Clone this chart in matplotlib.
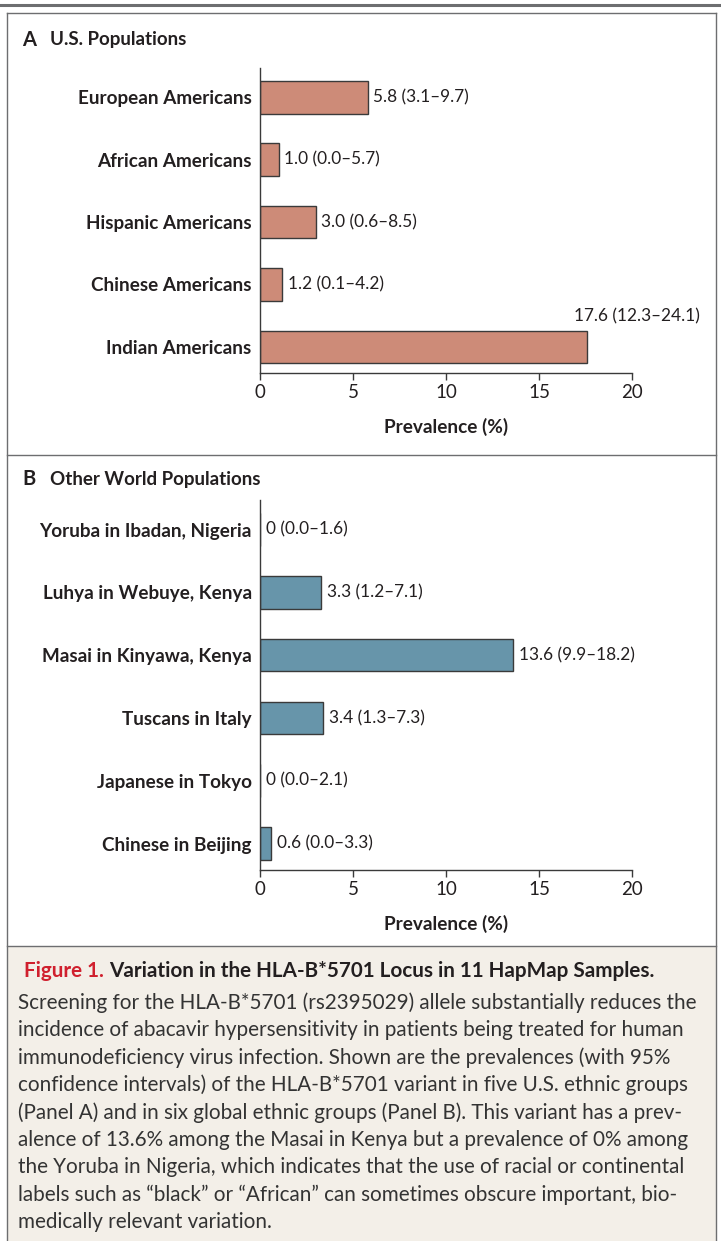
import matplotlib.pyplot as plt
from matplotlib.patches import Rectangle
from matplotlib.lines import Line2D

# prevalence of HLA-B*5701 with 95% confidence intervals
us_groups = ["European Americans", "African Americans", "Hispanic Americans",
             "Chinese Americans", "Indian Americans"]
us_prev = [5.8, 1.0, 3.0, 1.2, 17.6]
us_low = [3.1, 0.0, 0.6, 0.1, 12.3]
us_high = [9.7, 5.7, 8.5, 4.2, 24.1]

world_groups = ["Yoruba in Ibadan, Nigeria", "Luhya in Webuye, Kenya",
                "Masai in Kinyawa, Kenya", "Tuscans in Italy",
                "Japanese in Tokyo", "Chinese in Beijing"]
world_prev = [0, 3.3, 13.6, 3.4, 0, 0.6]
world_low = [0.0, 1.2, 9.9, 1.3, 0.0, 0.0]
world_high = [1.6, 7.1, 18.2, 7.3, 2.1, 3.3]

xticks = [0, 5, 10, 15, 20]

caption_lines = [
    "Screening for the HLA-B*5701 (rs2395029) allele substantially reduces the",
    "incidence of abacavir hypersensitivity in patients being treated for human",
    "immunodeficiency virus infection. Shown are the prevalences (with 95%",
    "confidence intervals) of the HLA-B*5701 variant in five U.S. ethnic groups",
    "(Panel A) and in six global ethnic groups (Panel B). This variant has a prev-",
    "alence of 13.6% among the Masai in Kenya but a prevalence of 0% among",
    "the Yoruba in Nigeria, which indicates that the use of racial or continental",
    "labels such as \u201cblack\u201d or \u201cAfrican\u201d can sometimes obscure important, bio-",
    "medically relevant variation.",
]

W, H = 721, 1241
INK = "#231f20"
FONT = ["Lato", "DejaVu Sans"]

fig = plt.figure(figsize=(W / 100, H / 100), dpi=100)
fig.patch.set_facecolor("white")


def hline(y, x0, x1, lw, color="#6d6e70"):
    fig.add_artist(Line2D([x0 / W, x1 / W], [1 - y / H, 1 - y / H], lw=lw, color=color))


def vline(x, y0, y1, lw, color="#6d6e70"):
    fig.add_artist(Line2D([x / W, x / W], [1 - y0 / H, 1 - y1 / H], lw=lw, color=color))


# frames
hline(5, 0, W, 2.2)
hline(13, 7, 716, 1.0)
hline(455, 7, 716, 1.0)
hline(946, 7, 716, 1.0)
vline(7, 13, H, 1.0)
vline(716, 13, H, 1.0)
fig.add_artist(Rectangle((7.5 / W, 0), (716 - 7.5) / W, (H - 946.5) / H,
                         facecolor="#f3efe8", edgecolor="none", zorder=-1))


def panel(top, bottom, groups, prev, low, high, color, letter, title, title_y):
    ax = fig.add_axes([260 / W, 1 - bottom / H, (632 - 260) / W, (bottom - top) / H])
    n = len(groups)
    pos = list(range(n))
    ax.barh(pos, prev, height=0.52, color=color, edgecolor="#3a3a3a", linewidth=1.0)
    ax.set_ylim(n - 1 + 0.42, -0.47)
    ax.set_xlim(0, 20)
    for i in pos:
        v = prev[i]
        vs = "0" if v == 0 else f"{v:.1f}"
        lab = f"{vs} ({low[i]:.1f}\u2013{high[i]:.1f})"
        if v > 15:
            # long bar: value sits above the bar, flush right
            ax.annotate(lab, (20, i), xytext=(49, 22), textcoords="offset points",
                        ha="right", va="center", fontsize=12.4, family=FONT, color=INK)
        else:
            ax.annotate(lab, (v, i), xytext=(4, 0), textcoords="offset points",
                        ha="left", va="center", fontsize=12.4, family=FONT, color=INK)
    ax.set_yticks(pos)
    ax.set_yticklabels(groups, fontsize=13.6, fontweight="bold", family=FONT, color=INK)
    ax.tick_params(axis="y", length=0, pad=6)
    ax.set_xticks(xticks)
    ax.set_xticklabels([str(t) for t in xticks], fontsize=13.5, family=FONT, color=INK)
    ax.tick_params(axis="x", length=5, width=1.0, color="#3a3a3a", pad=3)
    for s in ["top", "right"]:
        ax.spines[s].set_visible(False)
    for s in ["left", "bottom"]:
        ax.spines[s].set_color("#3a3a3a")
        ax.spines[s].set_linewidth(1.0)
    ax.set_xlabel("Prevalence (%)", fontsize=13.7, fontweight="bold", family=FONT,
                  color=INK, labelpad=12)
    ax.patch.set_alpha(0)
    fig.text(22 / W, 1 - title_y / H, letter, fontsize=14.5, fontweight="bold",
             family=FONT, color=INK, va="center")
    fig.text(50 / W, 1 - title_y / H, title, fontsize=13.5, fontweight="bold",
             family=FONT, color=INK, va="center")
    return ax


panel(68, 373, us_groups, us_prev, us_low, us_high, "#cd8b78",
      "A", "U.S. Populations", 40)
panel(500, 870, world_groups, world_prev, world_low, world_high, "#6795aa",
      "B", "Other World Populations", 479)

# caption
t = fig.text(24 / W, 1 - 971 / H, "Figure 1.", fontsize=14.9, fontweight="bold",
             family=FONT, color="#d0202e", va="center")
fig.canvas.draw()
bb = t.get_window_extent()
fig.text((bb.x1 + 5) / W, 1 - 971 / H,
         "Variation in the HLA-B*5701 Locus in 11 HapMap Samples.",
         fontsize=14.9, fontweight="bold", family=FONT, color=INK, va="center")
for k, line in enumerate(caption_lines):
    fig.text(18 / W, 1 - (1003 + k * 27.4) / H, line, fontsize=14.9,
             family=FONT, color="#333333", va="center")

fig.savefig("out.png", dpi=100)
